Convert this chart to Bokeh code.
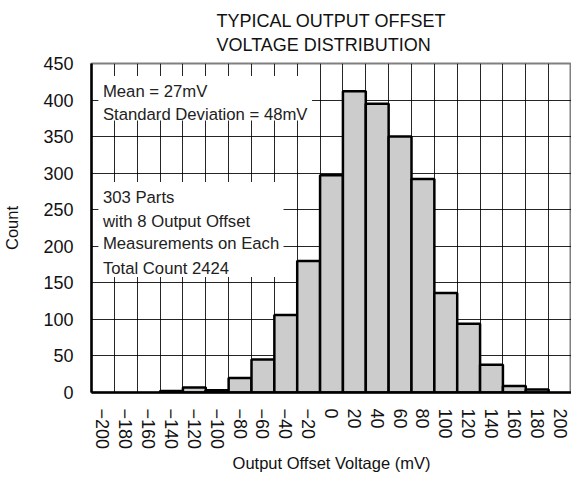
from bokeh.plotting import figure
from bokeh.models import (ColumnDataSource, Range1d, FixedTicker, Label,
                          BoxAnnotation, Title)
from bokeh.embed import file_html
from bokeh.resources import INLINE

# ---- data ----
bin_centers = [-200, -180, -160, -140, -120, -100, -80, -60, -40, -20, 0,
               20, 40, 60, 80, 100, 120, 140, 160, 180, 200]
counts = [0, 0, 0, 2, 7, 3, 20, 45, 106, 180, 297,
          412, 395, 350, 292, 136, 94, 38, 9, 4, 0]
tick_labels = ["\u2212200", "\u2212180", "\u2212160", "\u2212140", "\u2212120",
               "\u2212100", "\u221280", "\u221260", "\u221240", "\u221220", "0",
               "20", "40", "60", "80", "100", "120", "140", "160", "180", "200"]
y_ticks = [0, 50, 100, 150, 200, 250, 300, 350, 400, 450]
bin_width = 20

title_lines = ["TYPICAL OUTPUT OFFSET", "VOLTAGE DISTRIBUTION"]
note1 = ["Mean = 27mV", "Standard Deviation = 48mV"]
note2 = ["303 Parts", "with 8 Output Offset", "Measurements on Each", "Total Count 2424"]

FONT = "Liberation Sans"

# ---- source (non-empty bins only) ----
half = bin_width / 2
src = ColumnDataSource(dict(
    left=[c - half for c, n in zip(bin_centers, counts) if n > 0],
    right=[c + half for c, n in zip(bin_centers, counts) if n > 0],
    top=[n for n in counts if n > 0],
    bottom=[0 for n in counts if n > 0],
))
edges = [c - half for c in bin_centers] + [bin_centers[-1] + half]

p = figure(width=571, height=482, output_backend="svg", toolbar_location=None,
           x_range=Range1d(edges[0], edges[-1]), y_range=Range1d(0, 450),
           min_border_left=83, min_border_right=0, min_border_top=56,
           min_border_bottom=90)
p.title = None

p.add_layout(Title(text="\n".join(title_lines), align="center", text_font=FONT,
                   text_font_size="18px", text_font_style="normal",
                   text_line_height=1.2, text_color="#111111",
                   standoff=17, offset=0), "above")

p.quad(left="left", right="right", top="top", bottom="bottom", source=src,
       fill_color="#cccccc", line_color="black", line_width=2.5)

# axes
p.xaxis.ticker = FixedTicker(ticks=bin_centers)
p.xaxis.major_label_overrides = {c: l for c, l in zip(bin_centers, tick_labels)}
p.xaxis.major_label_orientation = "vertical"
p.yaxis.ticker = FixedTicker(ticks=y_ticks)
for ax in (p.xaxis[0], p.yaxis[0]):
    ax.major_tick_line_color = None
    ax.minor_tick_line_color = None
    ax.major_tick_out = 0
    ax.major_tick_in = 0
    ax.minor_tick_out = 0
    ax.minor_tick_in = 0
    ax.axis_line_color = "black"
    ax.axis_line_width = 2.5
    ax.major_label_text_font = FONT
    ax.major_label_text_font_size = "18px"
    ax.major_label_text_color = "#111111"
    ax.major_label_standoff = 18
    ax.axis_label_text_font = FONT
    ax.axis_label_text_font_size = "16.5px"
    ax.axis_label_text_font_style = "normal"
    ax.axis_label_text_color = "#111111"
p.xaxis.axis_label = "Output Offset Voltage (mV)"
p.yaxis.axis_label = "Count"
p.xaxis.major_label_standoff = 16
p.xaxis.axis_label_standoff = 2
p.xaxis.axis_label_text_line_height = 0.7
p.yaxis.axis_label_standoff = 19

# grid
p.xgrid.ticker = FixedTicker(ticks=edges)
p.ygrid.ticker = FixedTicker(ticks=y_ticks)
for g in (p.xgrid[0], p.ygrid[0]):
    g.grid_line_color = "black"
    g.grid_line_width = 1
    g.grid_line_alpha = 0.85

p.outline_line_color = "#808080"
p.outline_line_width = 2
p.background_fill_color = "white"
p.border_fill_color = "white"

# annotation boxes
p.add_layout(BoxAnnotation(left=-204, right=-17, bottom=372, top=433,
                           fill_color="white", fill_alpha=1, line_color=None))
p.add_layout(BoxAnnotation(left=-204, right=-42, bottom=158, top=288,
                           fill_color="white", fill_alpha=1, line_color=None))

for txt, yy in zip(note1, [411.5, 380]):
    p.add_layout(Label(x=-200, y=yy, text=txt, text_font=FONT,
                       text_font_size="16.7px", text_color="#222222",
                       text_baseline="alphabetic"))
for txt, yy in zip(note2, [267, 234, 203.5, 170]):
    p.add_layout(Label(x=-200, y=yy, text=txt, text_font=FONT,
                       text_font_size="16.7px", text_color="#222222",
                       text_baseline="alphabetic"))

open("out.html", "w").write(file_html(p, INLINE))
